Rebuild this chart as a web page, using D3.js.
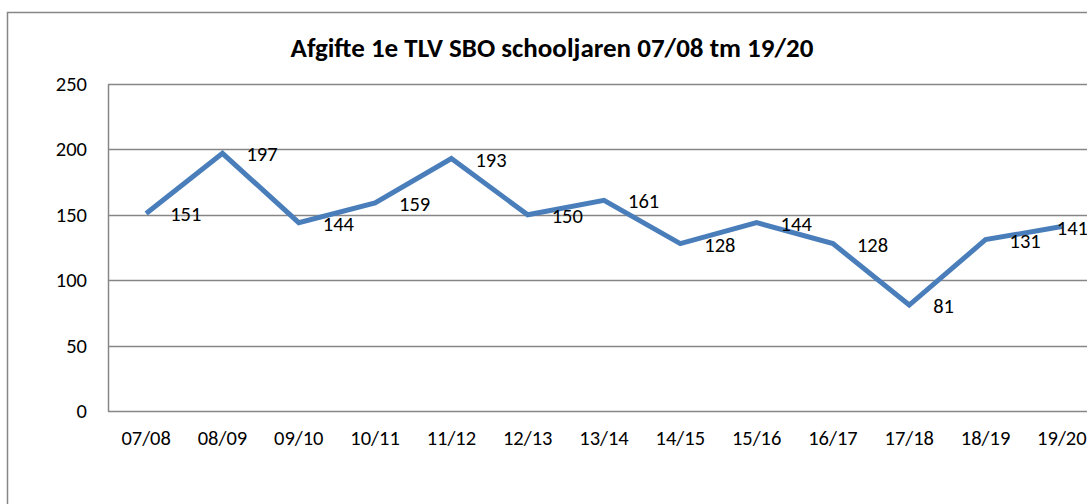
<!DOCTYPE html>
<html>
<head>
<meta charset="utf-8">
<script src="https://cdn.jsdelivr.net/npm/d3@7"></script>
<style>
  body { margin: 0; background: #fff; }
  svg { display: block; font-family: Carlito, Calibri, "Liberation Sans", Arial, sans-serif; }
</style>
</head>
<body>
<svg id="chart"></svg>
<script>
// data
const schoolYears = ["07/08", "08/09", "09/10", "10/11", "11/12", "12/13", "13/14",
                     "14/15", "15/16", "16/17", "17/18", "18/19", "19/20"];
const afgifte = [151, 197, 144, 159, 193, 150, 161, 128, 144, 128, 81, 131, 141];
const yTicks = [0, 50, 100, 150, 200, 250];
const chartTitle = "Afgifte 1e TLV SBO schooljaren 07/08 tm 19/20";

const width = 1087, height = 504;
const margin = {top: 84, left: 108, bottom: 93};
const plotRight = 1100;      // plot runs past the cropped right edge
const labelLimit = 1088;     // labels get pushed back inside the chart area
const gray = "#868686";
const blue = "#4A7EBB";
const fontSize = 20.5;

const svg = d3.select("#chart")
    .attr("width", width)
    .attr("height", height);

// outer chart border (cropped on right and bottom)
svg.append("rect")
    .attr("x", 7.5).attr("y", 12.5)
    .attr("width", 1120).attr("height", 540)
    .attr("fill", "none")
    .attr("stroke", gray)
    .attr("stroke-width", 1.5);

const x = d3.scaleBand()
    .domain(schoolYears)
    .range([margin.left, plotRight]);

const y = d3.scaleLinear()
    .domain([0, 250])
    .range([height - margin.bottom, margin.top]);

// gridlines
svg.append("g")
    .selectAll("line")
    .data(yTicks)
    .join("line")
    .attr("x1", margin.left).attr("x2", plotRight)
    .attr("y1", d => Math.round(y(d)) + 0.5)
    .attr("y2", d => Math.round(y(d)) + 0.5)
    .attr("stroke", gray)
    .attr("stroke-width", 1.5);

// y axis
const yAxis = d3.axisLeft(y).tickValues(yTicks).tickSize(0).tickPadding(21);
const yAxisG = svg.append("g")
    .attr("transform", `translate(${margin.left},0)`)
    .call(yAxis)
    .attr("font-family", null)
    .attr("font-size", fontSize);
yAxisG.select(".domain").attr("stroke", gray).attr("stroke-width", 1.5);
yAxisG.selectAll("text").attr("fill", "#000");

// x axis
const xAxis = d3.axisBottom(x).tickSize(0).tickPadding(19);
const xAxisG = svg.append("g")
    .attr("transform", `translate(0,${y(0)})`)
    .call(xAxis)
    .attr("font-family", null)
    .attr("font-size", fontSize);
xAxisG.select(".domain").remove();
xAxisG.selectAll("text").attr("fill", "#000");

// line
const line = d3.line()
    .x((d, i) => x(schoolYears[i]) + x.bandwidth() / 2)
    .y(d => y(d));

svg.append("path")
    .datum(afgifte)
    .attr("d", line)
    .attr("fill", "none")
    .attr("stroke", blue)
    .attr("stroke-width", 5)
    .attr("stroke-linejoin", "miter");

// value labels to the right of each point
const labels = svg.append("g")
    .selectAll("text")
    .data(afgifte)
    .join("text")
    .attr("font-size", fontSize)
    .attr("fill", "#000")
    .attr("dominant-baseline", "central")
    .attr("y", d => y(d) + 1)
    .text(d => d);

labels.each(function(d, i) {
    const w = this.getComputedTextLength();
    const px = x(schoolYears[i]) + x.bandwidth() / 2 + 24;
    d3.select(this).attr("x", Math.min(px, labelLimit - w));
});

// title
svg.append("text")
    .attr("x", 552)
    .attr("y", 57)
    .attr("text-anchor", "middle")
    .attr("font-size", 27)
    .attr("font-weight", "bold")
    .attr("fill", "#000")
    .text(chartTitle);
</script>
</body>
</html>
